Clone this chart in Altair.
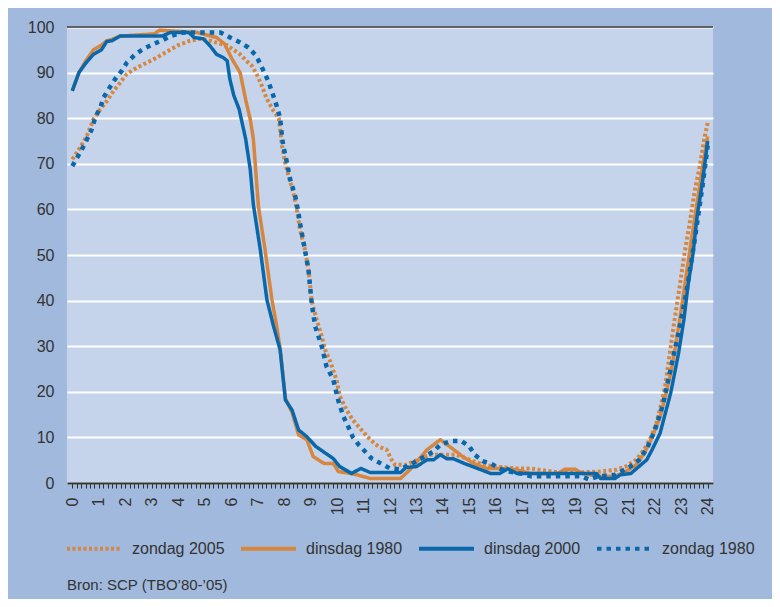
import altair as alt
import pandas as pd

FONT = "Liberation Sans"

series_names = ["zondag 2005", "dinsdag 1980", "dinsdag 2000", "zondag 1980"]
series_colors = ["#d6863e", "#d6863e", "#0a68aa", "#0a68aa"]
series_dashes = [[3, 2.5], [1, 0], [1, 0], [4.5, 5]]
series_widths = [4, 3.5, 3.5, 4.5]

# dinsdag 2000 (blue solid)
h_d2000 = [0, 0.25, 0.5, 0.8, 1.1, 1.3, 1.5, 1.8, 3.4, 3.7, 4.4, 4.6, 4.95, 5.2, 5.45, 5.7, 5.85, 5.95,
           6.1, 6.3, 6.55, 6.72, 6.84, 7.1, 7.35, 7.6, 7.85, 8.05, 8.3, 8.55, 8.85, 9.2, 9.85, 10.1,
           10.55, 10.9, 11.25, 12.4, 12.6, 13.0, 13.4, 13.65, 13.9, 14.15, 14.4, 14.8, 15.3, 15.8,
           16.15, 16.45, 16.8, 19.8, 19.95, 20.5, 20.7, 21.1, 21.4, 21.7, 21.9, 22.2, 22.4, 22.6,
           22.7, 22.9, 23.1, 23.25, 23.45, 23.6, 23.8, 24.0]
v_d2000 = [86, 90, 92, 94, 95, 96.8, 97, 98, 98, 98.8, 98.8, 97.7, 97.4, 95.9, 94, 93.3, 92.6, 88.6,
           85, 82, 75.4, 68.8, 61, 51.2, 40.2, 34.4, 29.2, 18.2, 16, 11.6, 10.2, 8, 5.4, 3.6,
           2.1, 3.2, 2.3, 2.3, 3.4, 3.6, 5.1, 5.1, 6.2, 5.3, 5.3, 4.3, 3.2, 2.1,
           2.1, 3.1, 2.1, 2.1, 1, 1, 1.8, 2.1, 3.6, 5.1, 7.3, 10.9, 15.3, 19.7,
           22.6, 28.5, 35.8, 43.1, 50.5, 58.5, 65.9, 75]

# dinsdag 1980 (orange solid)
h_d1980 = [0, 0.25, 0.5, 0.8, 1.1, 1.3, 1.5, 1.8, 3.1, 3.3, 4.7, 5.45, 5.75, 6.03, 6.34, 6.55, 6.72,
           6.84, 7.03, 7.28, 7.54, 7.72, 7.85, 8.05, 8.3, 8.55, 8.86, 9.1, 9.5, 9.86, 10.05, 10.5,
           10.75, 11.25, 12.4, 12.75, 13.4, 13.9, 14.25, 14.75, 15.15, 15.65, 16.3, 16.8, 17.3, 18.3,
           18.6, 19.0, 19.3, 19.9, 20.5, 20.9, 21.3, 21.6, 21.9, 22.2, 22.4, 22.6, 22.8, 23.0, 23.2,
           23.4, 23.6, 23.8, 24.0]
v_d1980 = [86, 90, 92.5, 95, 96, 97, 97.3, 98, 98.5, 99.3, 98.8, 97.7, 96.3, 93, 90, 84, 79.8,
           75.4, 60.7, 51.2, 40.2, 34.4, 29.5, 18.5, 15.5, 10.5, 9.5, 5.8, 4.3, 4.3, 2.5, 2.1,
           1.8, 1, 1, 2.9, 7.3, 9.5, 8, 5.8, 4.3, 3.2, 3.2, 2.9, 2.1, 2,
           3, 3, 2, 1.5, 1.5, 2.5, 4, 6.5, 10, 14.5, 19, 24, 30.5, 38, 46,
           54, 61.5, 69, 76]

# zondag 2005 (orange dotted)
h_z2005 = [0, 0.3, 0.55, 0.8, 1.06, 1.31, 1.56, 1.81, 2.06, 2.44, 2.82, 3.2, 3.57, 4.0, 4.45, 4.83,
           5.2, 5.58, 5.84, 6.09, 6.34, 6.59, 6.78, 6.96, 7.16, 7.35, 7.6, 7.8, 7.92, 8.04, 8.17,
           8.35, 8.48, 8.6, 8.79, 8.92, 9.04, 9.23, 9.42, 9.55, 9.74, 9.98, 10.11, 10.36, 10.6,
           10.93, 11.25, 11.56, 11.87, 12.06, 12.19, 12.6, 13.5, 14.0, 14.5, 15.0, 15.4, 15.9, 16.8,
           17.3, 18.5, 19.9, 20.55, 20.9, 21.3, 21.6, 21.87, 22.06, 22.25, 22.4, 22.57, 22.75, 22.94,
           23.13, 23.32, 23.5, 23.7, 23.87, 24.0]
v_z2005 = [71, 73.6, 76.1, 79.8, 82, 83.8, 86, 87.8, 89.7, 91.1, 92.2, 93.3, 94.6, 96, 97, 97.4,
           97, 96.3, 96, 95, 94, 92.5, 91.5, 89.7, 87.1, 84.2, 81.6, 80, 74, 70.3, 67.3,
           63.7, 60, 55.6, 51.2, 46.8, 40, 35.8, 32.2, 29.2, 26.7, 22.6, 19, 16, 13.8,
           11.6, 9.5, 8, 7.3, 5.1, 4, 4, 6.2, 6.2, 6.2, 5.1, 4.3, 3.6, 3.2,
           3.2, 2.2, 2.5, 2.9, 3.6, 5.1, 7.3, 10.2, 13.1, 17.5, 21.5, 28.5, 35.8, 43.1,
           50.5, 57, 63.7, 69.5, 75.4, 79]

# zondag 1980 (blue dotted)
h_z1980 = [0, 0.3, 0.49, 0.74, 0.87, 1.06, 1.18, 1.41, 1.62, 1.87, 2.06, 2.38, 2.69, 3.07, 3.38,
           3.7, 4.0, 4.2, 5.6, 5.96, 6.34, 6.65, 6.93, 7.1, 7.28, 7.41, 7.57, 7.72, 7.85, 7.92,
           7.97, 8.08, 8.23, 8.42, 8.54, 8.6, 8.79, 8.92, 9.04, 9.17, 9.42, 9.6, 9.86, 10.05,
           10.24, 10.45, 10.6, 10.8, 11.06, 11.3, 11.68, 12.0, 12.4, 13.1, 13.64, 13.9, 14.3, 14.7,
           15.0, 15.2, 15.5, 15.8, 16.2, 16.5, 17.0, 17.3, 18.0, 19.2, 19.5, 19.9, 20.5, 21.05,
           21.4, 21.7, 22.0, 22.3, 22.6, 22.9, 23.2, 23.5, 23.8, 24.0]
v_z1980 = [69.5, 72.5, 74.6, 77.6, 80.2, 82.3, 84.5, 86.7, 88.6, 90.4, 92.2, 94, 95.2, 96.3, 97,
           98, 98.5, 98.8, 98.8, 97.7, 96.6, 95.5, 93.8, 91.9, 89.7, 88, 85.3, 82.7, 80, 76,
           73.9, 71, 66.6, 62.9, 59.3, 57, 51, 46.8, 39.5, 34.4, 30, 25.6, 22.6, 18,
           14.6, 12, 10, 8.5, 6.9, 5.4, 4.2, 3.2, 3, 5.1, 6.9, 8.4, 9.2, 9.2,
           8, 6.2, 4.8, 4.3, 3, 2.5, 2, 1.5, 1.5, 1.5, 0.8, 1.5, 1.8, 3.5,
           5, 7.5, 11.5, 17, 25, 33, 42, 53, 65, 74]

x_ticks = [i / 6 for i in range(145)]          # 10-minute tick marks
y_ticks = [0, 10, 20, 30, 40, 50, 60, 70, 80, 90, 100]
source_text = "Bron: SCP (TBO\u201980-\u201905)"

rows = []
for name, hs, vs in [("zondag 2005", h_z2005, v_z2005), ("dinsdag 1980", h_d1980, v_d1980),
                     ("zondag 1980", h_z1980, v_z1980), ("dinsdag 2000", h_d2000, v_d2000)]:
    for h, v in zip(hs, vs):
        rows.append({"s": name, "h": h, "v": v})
df = pd.DataFrame(rows)

W, H = 646, 456

x_enc = alt.X("h:Q", scale=alt.Scale(domain=[-0.2, 24.2], nice=False, zero=False),
              axis=alt.Axis(values=x_ticks, title=None, grid=False,
                            labelExpr="datum.value % 1 === 0 ? '' + datum.value : ''",
                            labelAngle=270, labelOverlap=False, labelBound=False, labelFlush=False,
                            labelFontSize=16, labelColor="#333333", labelPadding=9,
                            tickSize=5, tickColor="#333333", tickWidth=1,
                            domainColor="#333333", domainWidth=2))
y_enc = alt.Y("v:Q", scale=alt.Scale(domain=[0, 100], nice=False),
              axis=alt.Axis(values=y_ticks, title=None, grid=True, gridColor="white", gridWidth=2,
                            domain=False, ticks=False, labelFontSize=16, labelColor="#333333",
                            labelPadding=13))
leg = alt.Legend(orient="none", legendX=-2, legendY=492, direction="horizontal", title=None,
                 symbolType="stroke", symbolSize=3025, symbolStrokeWidth=4,
                 labelFontSize=16, labelColor="#333333", labelOffset=8, columnPadding=8,
                 padding=0, labelLimit=300)
color_enc = alt.Color("s:N", scale=alt.Scale(domain=series_names, range=series_colors), legend=leg)
dash_enc = alt.StrokeDash("s:N", scale=alt.Scale(domain=series_names, range=series_dashes), legend=leg)

draw_order = ["zondag 2005", "dinsdag 1980", "zondag 1980", "dinsdag 2000"]
layers = []
for name in draw_order:
    sw = series_widths[series_names.index(name)]
    layers.append(
        alt.Chart(df).transform_filter(alt.datum.s == name)
        .mark_line(strokeWidth=sw, strokeJoin="round")
        .encode(x=x_enc, y=y_enc, color=color_enc, strokeDash=dash_enc)
    )

top_rule = alt.Chart(pd.DataFrame({"a": [0]})).mark_rule(color="#333333", strokeWidth=1.5).encode(
    y=alt.datum(100))
src = alt.Chart(pd.DataFrame({"t": [source_text]})).mark_text(
    align="left", baseline="middle", fontSize=15, color="#333333", font=FONT).encode(
    x=alt.value(0), y=alt.value(558), text="t:N")

chart = alt.layer(*layers, top_rule, src).properties(
    width=W, height=H,
    autosize=alt.AutoSizeParams(type="none"),
    padding={"left": 59, "top": 19, "right": 59, "bottom": 116},
    background="#a0b9dd",
).configure_view(fill="#c5d4ea", stroke=None).configure_axis(
    labelFont=FONT).configure_legend(labelFont=FONT)

chart.save("out.html", embed_options={"renderer": "svg", "actions": False})
